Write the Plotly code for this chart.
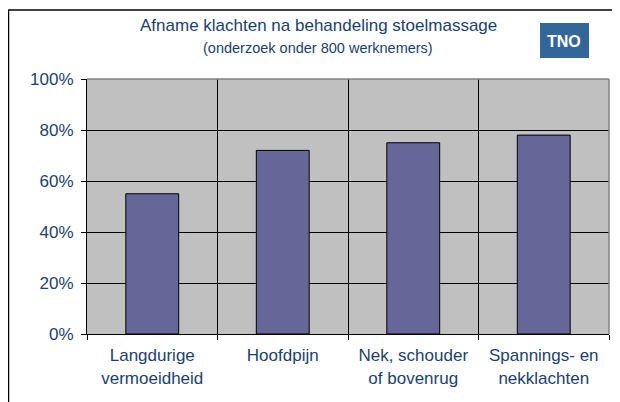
import plotly.graph_objects as go

categories = ["Langdurige<br>vermoeidheid", "Hoofdpijn", "Nek, schouder<br>of bovenrug", "Spannings- en<br>nekklachten"]
values = [0.55, 0.72, 0.75, 0.78]
y_ticks = [0, 0.2, 0.4, 0.6, 0.8, 1.0]
y_tick_labels = ["0%", "20%", "40%", "60%", "80%", "100%"]

OFF = 8  # browser default body margin
W, H = 620 - OFF, 402 - OFF
L, R, T, B = 87 - OFF, 11, 79 - OFF, 68
pw, ph = W - L - R, H - T - B


def px(x):
    return (x - OFF - L) / pw


def py(y):
    return (H - B - (y - OFF)) / ph


text_col = "#1C3F6E"
font_fam = "Liberation Sans, Arial, sans-serif"

fig = go.Figure(go.Bar(
    x=categories, y=values,
    marker=dict(color="#666699", line=dict(color="#000000", width=1)),
    width=0.405,
))

fig.update_layout(
    width=W, height=H,
    margin=dict(l=L, r=R, t=T, b=B),
    paper_bgcolor="#FFFFFF",
    plot_bgcolor="#C0C0C0",
    font=dict(family=font_fam, color=text_col, size=17),
    showlegend=False,
    xaxis=dict(
        tickson="boundaries", ticks="outside", ticklen=5, tickcolor="#000000",
        showgrid=True, gridcolor="#000000", gridwidth=1,
        showline=True, linecolor="#000000", linewidth=1,
        tickfont=dict(size=17, color=text_col),
        ticklabelstandoff=6,
        fixedrange=True, automargin=False,
    ),
    yaxis=dict(
        range=[0, 1], tickvals=y_ticks, ticktext=y_tick_labels,
        ticks="outside", ticklen=5, tickcolor="#000000",
        showgrid=True, gridcolor="#000000", gridwidth=1,
        showline=True, linecolor="#000000", linewidth=1,
        zeroline=False,
        tickfont=dict(size=17, color=text_col),
        ticklabelstandoff=4,
        fixedrange=True, automargin=False,
    ),
    shapes=[
        dict(type="line", xref="paper", yref="paper", x0=0, x1=1, y0=1, y1=1,
             line=dict(color="#808080", width=1.5)),
        dict(type="line", xref="paper", yref="paper", x0=1, x1=1, y0=0, y1=1,
             line=dict(color="#808080", width=1.5)),
        dict(type="line", xref="paper", yref="paper", x0=px(8), x1=px(620), y0=py(10), y1=py(10),
             line=dict(color="#000000", width=1.5)),
        dict(type="line", xref="paper", yref="paper", x0=px(8.5), x1=px(8.5), y0=py(10), y1=py(402),
             line=dict(color="#000000", width=1.5)),
        dict(type="rect", xref="paper", yref="paper", x0=px(540), x1=px(589), y0=py(58), y1=py(23),
             fillcolor="#336699", line=dict(width=0)),
    ],
    annotations=[
        dict(text="Afname klachten na behandeling stoelmassage", xref="paper", yref="paper",
             x=px(318), y=py(25), xanchor="center", yanchor="middle", showarrow=False,
             font=dict(size=17, color=text_col)),
        dict(text="(onderzoek onder 800 werknemers)", xref="paper", yref="paper",
             x=px(318), y=py(48), xanchor="center", yanchor="middle", showarrow=False,
             font=dict(size=14.5, color=text_col)),
        dict(text="<b>TNO</b>", xref="paper", yref="paper",
             x=px(564), y=py(41), xanchor="center", yanchor="middle", showarrow=False,
             font=dict(size=16, color="#FFFFFF", family=font_fam)),
    ],
)

fig.write_html("out.html")
